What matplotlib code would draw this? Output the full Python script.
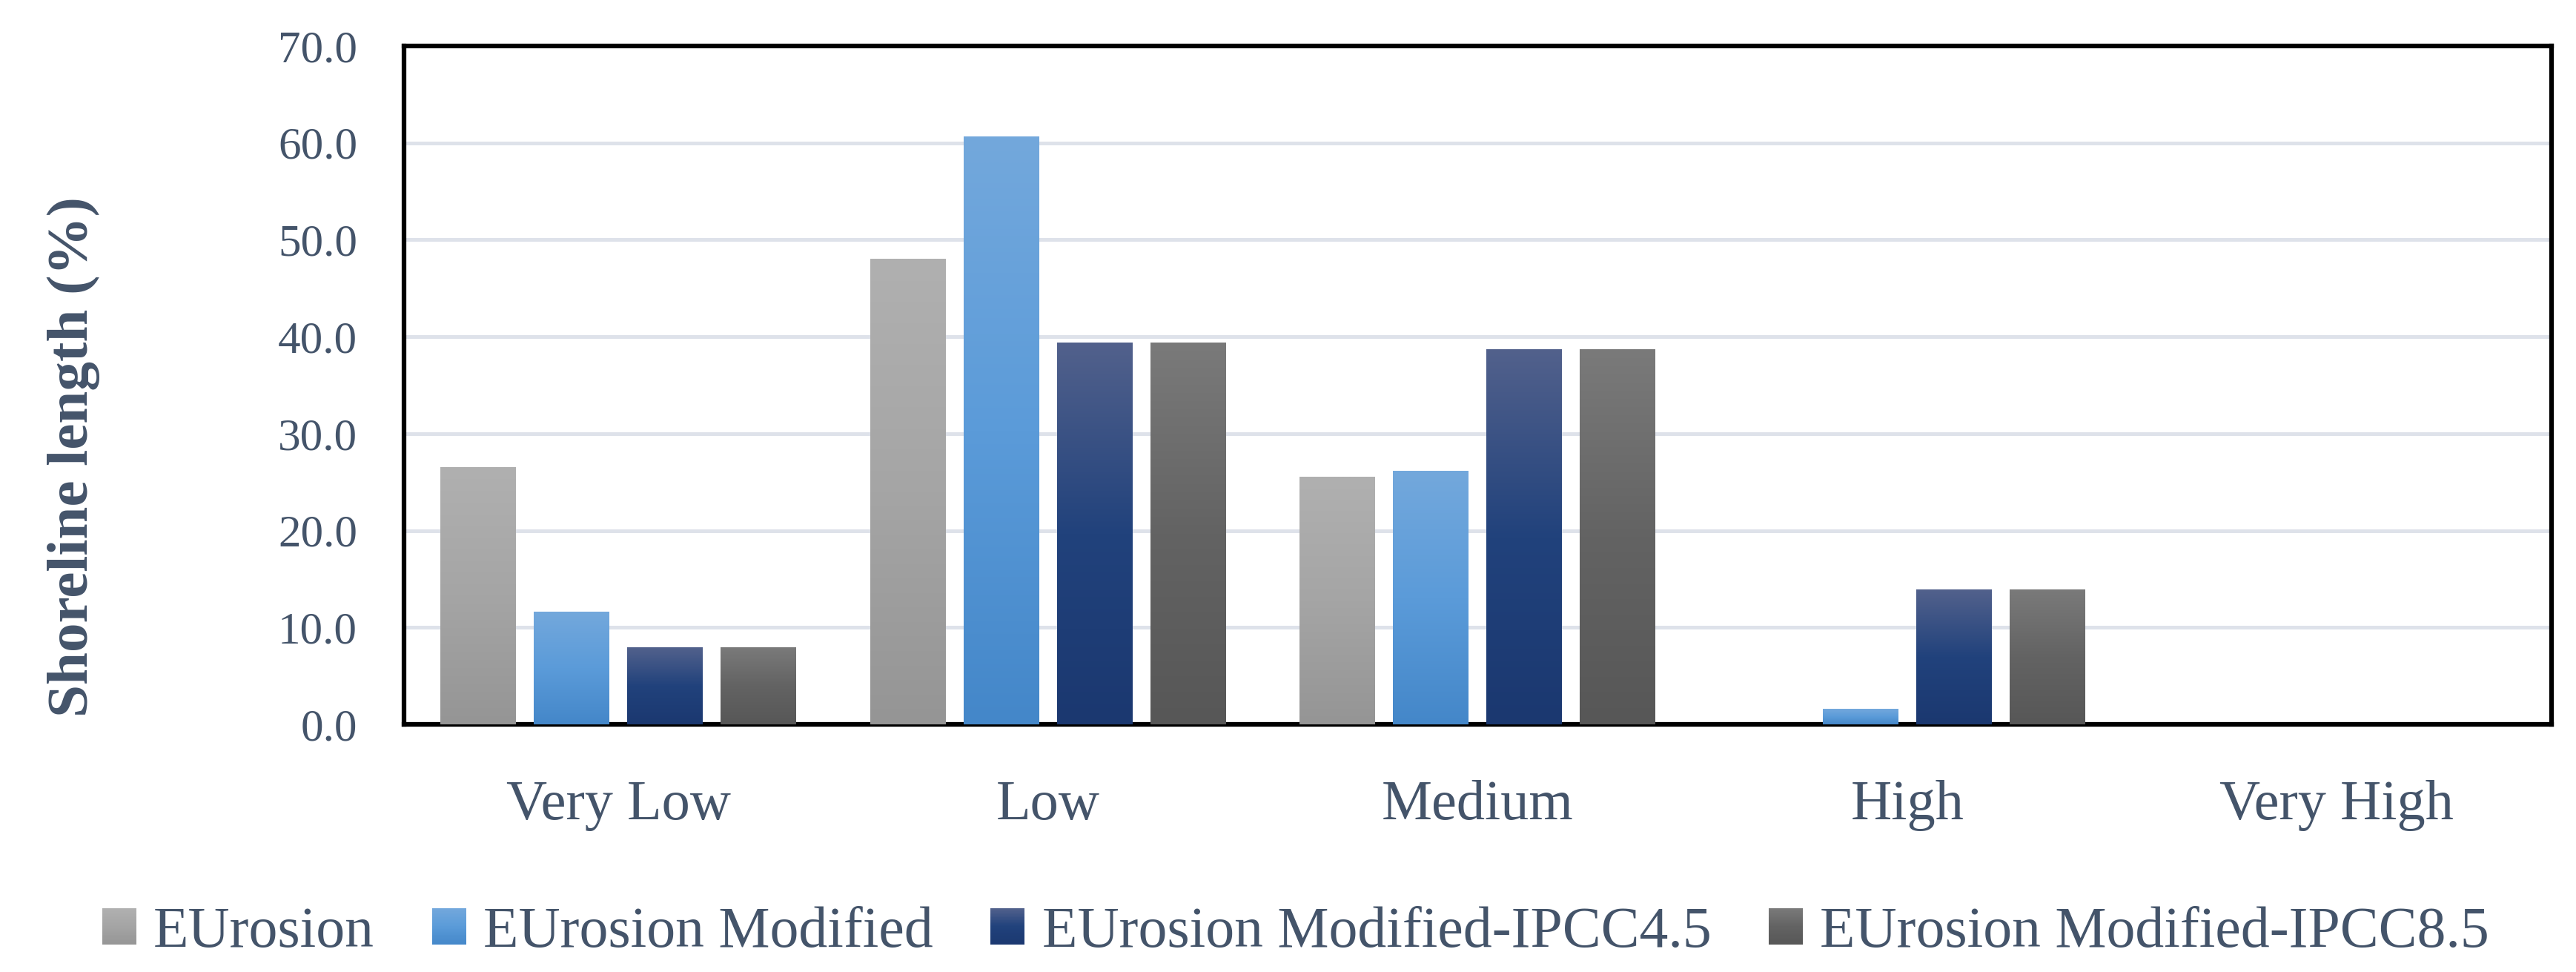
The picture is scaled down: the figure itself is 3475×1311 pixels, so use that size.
import numpy as np
import matplotlib
matplotlib.use('Agg')
import matplotlib.pyplot as plt
from matplotlib.colors import LinearSegmentedColormap
from matplotlib.patches import Patch, Rectangle
from matplotlib.legend_handler import HandlerBase

categories = ['Very Low', 'Low', 'Medium', 'High', 'Very High']
series = ['EUrosion', 'EUrosion Modified', 'EUrosion Modified-IPCC4.5', 'EUrosion Modified-IPCC8.5']
eurosion = [26.5, 48.0, 25.5, 0.0, 0.0]
eurosion_mod = [11.6, 60.6, 26.1, 1.6, 0.0]
ipcc45 = [7.9, 39.4, 38.7, 13.9, 0.0]
ipcc85 = [7.9, 39.4, 38.7, 13.9, 0.0]
yticks = [0, 10, 20, 30, 40, 50, 60, 70]

# bottom -> middle -> top gradient colours
grads = [
    ['#959595', '#a5a5a5', '#b0b0b0'],
    ['#4487c9', '#5b9bd9', '#73a8dc'],
    ['#1b3870', '#21427c', '#52618c'],
    ['#575757', '#636363', '#7a7a7a'],
]
cmaps = [LinearSegmentedColormap.from_list('g%d' % i, g) for i, g in enumerate(grads)]

txt = '#44546a'
plt.rcParams['font.family'] = ['Liberation Serif', 'DejaVu Serif']

fig = plt.figure(figsize=(34.75, 13.11), dpi=100)
ax = fig.add_axes([0.1567, 0.2548, 0.8338, 0.6979])

x = np.arange(len(categories))
w = 0.176
step = 0.2176
data = [eurosion, eurosion_mod, ipcc45, ipcc85]
grad = np.linspace(0, 1, 256).reshape(-1, 1)
for i, vals in enumerate(data):
    bars = ax.bar(x + (i - 1.5) * step, vals, w, color='none', edgecolor='none')
    for r in bars:
        h = r.get_height()
        if h <= 0:
            continue
        ax.imshow(grad, extent=[r.get_x(), r.get_x() + r.get_width(), r.get_y(), r.get_y() + h],
                  origin='lower', cmap=cmaps[i], aspect='auto', zorder=3, interpolation='bilinear')

ax.set_xlim(-0.5, len(categories) - 0.5)
ax.set_ylim(0, 70)
ax.set_yticks(yticks)
ax.set_yticklabels(['%.1f' % v for v in yticks])
ax.set_xticks(x)
ax.set_xticklabels(categories)
ax.yaxis.grid(True, color='#dee2ea', linewidth=3.6)
ax.set_axisbelow(True)
ax.tick_params(axis='y', length=0, pad=45, labelsize=44, labelcolor=txt)
ax.tick_params(axis='x', length=0, pad=54, labelsize=55, labelcolor=txt)
for s in ax.spines.values():
    s.set_linewidth(4.5)
    s.set_color('black')

fig.text(0.0285, 0.53, 'Shoreline length (%)', rotation=90, ha='center', va='center',
         fontsize=57, fontweight='bold', color=txt)


class GradHandler(HandlerBase):
    def __init__(self, cmap):
        super().__init__()
        self.cmap = cmap

    def create_artists(self, legend, orig_handle, xdescent, ydescent, width, height, fontsize, trans):
        n = 24
        arts = []
        for k in range(n):
            rr = Rectangle((-xdescent, -ydescent + height * k / n), width, height / n * 1.05,
                           facecolor=self.cmap((k + 0.5) / n), edgecolor='none', transform=trans)
            arts.append(rr)
        return arts


handles = [Patch(label=s) for s in series]
hmap = {h: GradHandler(c) for h, c in zip(handles, cmaps)}
leg = fig.legend(handles=handles, handler_map=hmap, loc='center', bbox_to_anchor=(0.503, 0.0405),
                 ncol=4, frameon=False, fontsize=56, handlelength=0.59, handleheight=0.59,
                 handletextpad=0.3, columnspacing=1.0, borderaxespad=0)
for t in leg.get_texts():
    t.set_color(txt)

fig.savefig('out.png', dpi=100)
